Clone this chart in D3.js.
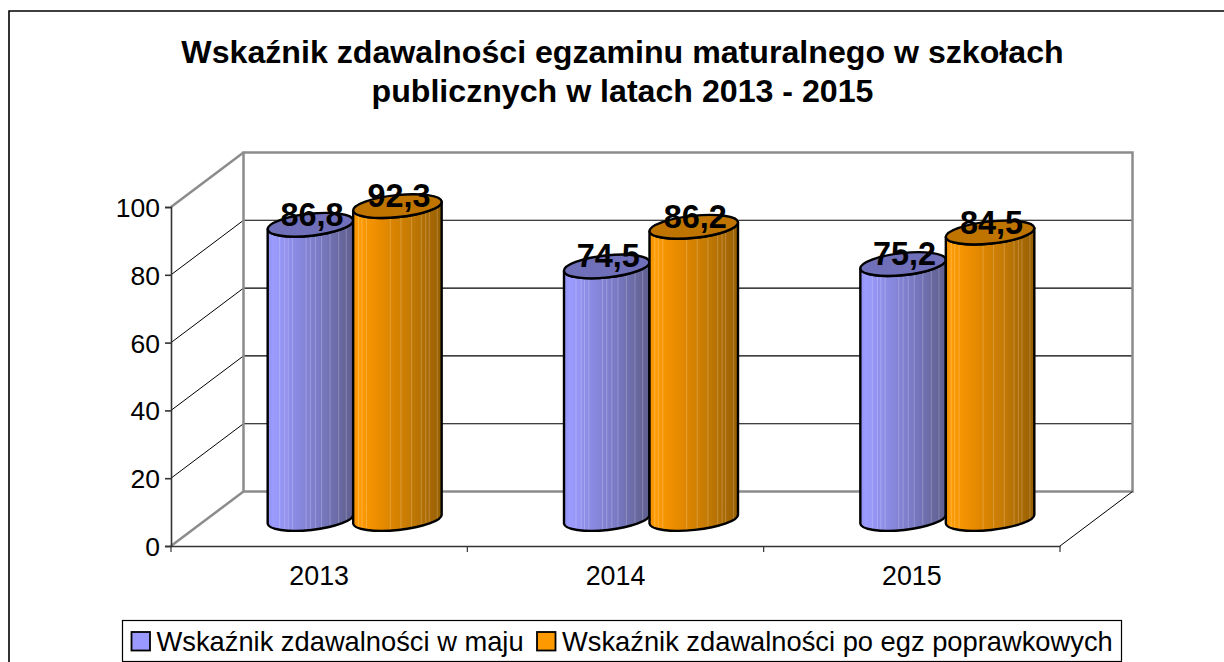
<!DOCTYPE html>
<html><head><meta charset="utf-8">
<script src="https://cdn.jsdelivr.net/npm/d3@7/dist/d3.min.js"></script>
<style>html,body{margin:0;padding:0;background:#fff;overflow:hidden}svg{display:block}text{font-family:"Liberation Sans",Arial,sans-serif;fill:#000}</style>
</head><body><svg id="c" width="1224" height="662"></svg>
<script>
const categories = ["2013","2014","2015"];
const seriesNames = ["Wskaźnik zdawalności w maju","Wskaźnik zdawalności po egz poprawkowych"];
const maj = [86.8,74.5,75.2];
const poprawkowe = [92.3,86.2,84.5];
const yTicks = [0,20,40,60,80,100];
const titleLines = ["Wskaźnik zdawalności egzaminu maturalnego w szkołach","publicznych w latach 2013 - 2015"];
const seriesValues = [maj, poprawkowe];

const svg = d3.select("#c");
const defs = svg.append("defs");
const DX=72.5, DY=-54.5;
const x = d3.scaleBand().domain(categories).range([171,1060]);
const y = d3.scaleLinear().domain([0,100]).range([546,207]);
const fmt = v => String(v).replace(".",",");

// frame
svg.append("path").attr("d","M9,662V11H1224").attr("fill","none").attr("stroke","#000").attr("stroke-width",1.6);

// title
titleLines.forEach((t,i)=>svg.append("text").attr("x",622.5).attr("y",63+i*39).attr("text-anchor","middle")
  .attr("font-weight","bold").attr("font-size",32.15).text(t));

// walls
const GRAY="#8c8c8c";
const grid=svg.append("g");
yTicks.forEach(t=>{
  const yy=y(t);
  grid.append("line").attr("x1",171).attr("y1",yy).attr("x2",171+DX).attr("y2",yy+DY)
    .attr("stroke",t===0||t===100?GRAY:"#000").attr("stroke-width",t===0||t===100?2.5:1);
  if(t>0&&t<100) grid.append("line").attr("x1",171+DX).attr("y1",yy+DY).attr("x2",1060+DX).attr("y2",yy+DY).attr("stroke","#000").attr("stroke-width",1.1);
});
grid.append("rect").attr("x",171+DX).attr("y",y(100)+DY).attr("width",1060-171).attr("height",y(0)-y(100))
  .attr("fill","none").attr("stroke",GRAY).attr("stroke-width",2.5);
grid.append("line").attr("x1",1060).attr("y1",y(0)).attr("x2",1060+DX).attr("y2",y(0)+DY).attr("stroke","#000").attr("stroke-width",1);

// axes
const gy=svg.append("g").attr("transform","translate(171,0)").call(d3.axisLeft(y).tickValues(yTicks).tickSize(6).tickPadding(5));
gy.selectAll("path,line").attr("stroke","#333").attr("stroke-width",1.6);
gy.selectAll("text").attr("font-size",26.5).attr("font-family",'"Liberation Sans"').attr("fill","#000").attr("dy","0.36em");
const gx=svg.append("g").attr("transform","translate(0,546)").call(d3.axisBottom(x).tickSize(0).tickPadding(0));
gx.selectAll("path").attr("stroke","#333").attr("stroke-width",1.6);
gx.selectAll("text").attr("font-size",26.8).attr("font-family",'"Liberation Sans"').attr("fill","#000").attr("dy",0).attr("y",38.5);
gx.selectAll("line").remove();
svg.append("g").selectAll("line").data(categories.concat(["end"])).join("line")
  .attr("x1",(d,i)=>171+i*x.step()).attr("x2",(d,i)=>171+i*x.step()).attr("y1",546).attr("y2",552)
  .attr("stroke","#333").attr("stroke-width",1.2);

// cylinders
const palettes=[
 {top:"#6f6fba",stops:[["0","#9090ee"],[".06","#9c9cff"],[".25","#8f8fea"],[".6","#7a7ac6"],[".9","#656599"],["1","#5f5f90"]],
  stripes:[.14,.2,.24,.29,.45,.5,.56,.63,.73,.83,.92]},
 {top:"#bf7400",stops:[["0","#f09000"],[".06","#ff9c05"],[".3","#ea8c00"],[".65","#c47a04"],[".9","#a46604"],["1","#966000"]],
  stripes:[.06,.1,.15,.42,.54,.66,.77,.82,.86,.95]}
];
palettes.forEach((p,i)=>{
  const g=defs.append("linearGradient").attr("id","g"+i).attr("x1",0).attr("x2",1).attr("y1",0).attr("y2",0);
  p.stops.forEach(s=>g.append("stop").attr("offset",s[0]).attr("stop-color",s[1]));
});
const edges=[-87,-1.5,87];
const ry=11, tilt=4.6;
const center=c=>x(c)+x.step()/2+35.5;
const barX=(c,s)=>center(c)+(edges[s]+edges[s+1])/2;
const base=y(0)-27;
const lvl=v=>base-(y(0)-y(v));
const bars=svg.append("g");
categories.forEach((c,ci)=>{
  seriesValues.forEach((vals,si)=>{
    const barW=edges[si+1]-edges[si], rx=barW/2, rot=-Math.atan(tilt/rx)*180/Math.PI, ax=(rx*rx+tilt*tilt)**.5;
    const v=vals[ci], cx=barX(c,si), t=lvl(v), b=base, p=palettes[si];
    const d=`M${cx-rx},${t+tilt}L${cx-rx},${b+tilt}A${ax},${ry},${rot},0,0,${cx+rx},${b-tilt}L${cx+rx},${t-tilt}A${ax},${ry},${rot},0,1,${cx-rx},${t+tilt}Z`;
    const id=`clip${ci}${si}`;
    defs.append("clipPath").attr("id",id).append("path").attr("d",d);
    const g=bars.append("g");
    g.append("path").attr("d",d).attr("fill",`url(#g${si})`);
    const inner=g.append("g").attr("clip-path",`url(#${id})`);
    inner.selectAll("line.s").data(p.stripes).join("line").attr("class","s")
      .attr("x1",f=>cx-rx+f*barW).attr("x2",f=>cx-rx+f*barW).attr("y1",t-20).attr("y2",b+20)
      .attr("stroke","#fff").attr("stroke-opacity",.22).attr("stroke-width",1);
    g.append("path").attr("d",d).attr("fill","none").attr("stroke","#000").attr("stroke-width",2.4).attr("stroke-linejoin","round");
    g.append("ellipse").attr("rx",ax).attr("ry",ry).attr("transform",`translate(${cx},${t}) rotate(${rot})`)
      .attr("fill",p.top).attr("stroke","#000").attr("stroke-width",2.4);
  });
});
categories.forEach((c,ci)=>seriesValues.forEach((vals,si)=>{
  svg.append("text").attr("x",barX(c,si)+1.5).attr("y",lvl(vals[ci])+1).attr("text-anchor","middle")
    .attr("font-weight","bold").attr("font-size",32.4).text(fmt(vals[ci]));
}));

// legend
svg.append("rect").attr("x",122.5).attr("y",620.5).attr("width",999).attr("height",41).attr("fill","#fff").attr("stroke","#000").attr("stroke-width",1.2);
const legendX=[131.5,537];
seriesNames.forEach((n,i)=>{
  svg.append("rect").attr("x",legendX[i]).attr("y",632).attr("width",18.5).attr("height",18.5)
    .attr("fill",i?"#ff9900":"#9999ff").attr("stroke","#000").attr("stroke-width",1.8);
  svg.append("text").attr("x",legendX[i]+25).attr("y",650.5).attr("font-size",27.3).text(n);
});
</script></body></html>
